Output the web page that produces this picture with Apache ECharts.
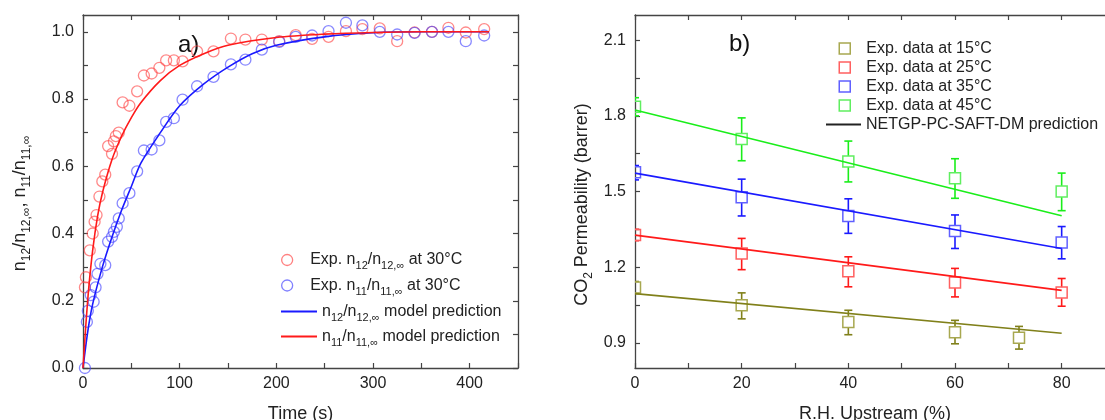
<!DOCTYPE html>
<html><head><meta charset="utf-8">
<script src="https://cdn.jsdelivr.net/npm/echarts@6/dist/echarts.min.js"></script>
<style>html,body{margin:0;padding:0;background:#fff}#c{width:1105px;height:420px}</style>
</head><body><div id="c"></div>
<script>
// ---------- Panel a) data ----------
const redExpTimes  = [2,3,7,10,12,14,17,20,23,26,30,32,34,37,41,48,56,63,71,79,86,94,103,118,135,153,168,185,203,220,237,254,272,289,307,325,343,361,378,396,415];
const redExpValues = [0.24,0.27,0.35,0.40,0.435,0.455,0.51,0.555,0.575,0.66,0.637,0.674,0.69,0.70,0.79,0.78,0.823,0.87,0.876,0.893,0.915,0.915,0.912,0.942,0.942,0.98,0.977,0.977,0.972,0.99,0.979,0.985,1.002,1.008,1.01,0.972,0.998,1.0,1.012,0.998,1.008];
const blueExpTimes  = [2,4,5,8,11,13,15,18,23,26,30,32,35,37,41,48,56,63,71,79,86,94,103,118,135,153,168,185,203,220,237,254,272,289,307,325,343,361,378,396,415];
const blueExpValues = [0.0,0.137,0.17,0.217,0.197,0.24,0.28,0.31,0.306,0.376,0.39,0.405,0.42,0.445,0.49,0.52,0.585,0.647,0.65,0.677,0.732,0.743,0.798,0.838,0.866,0.903,0.917,0.947,0.97,0.985,0.989,1.002,1.027,1.019,1.0,0.992,0.997,1.0,1.0,0.972,0.989];
const redModelTimes  = [0,3,6,10,15,20,30,40,50,60,80,100,125,150,200,250,300,350,420];
const redModelValues = [0,0.13,0.24,0.35,0.45,0.52,0.62,0.69,0.745,0.79,0.855,0.9,0.935,0.96,0.983,0.993,0.998,1.0,1.0];
const blueModelTimes  = [0,5,10,20,30,40,50,60,80,100,125,150,175,200,250,300,350,420];
const blueModelValues = [0,0.11,0.19,0.30,0.39,0.47,0.54,0.61,0.70,0.78,0.845,0.895,0.935,0.96,0.985,0.997,1.0,1.0];
const aXTicks = [0,50,100,150,200,250,300,350,400,450];
const aXLabels = [0,100,200,300,400];
const aYTicks = [0,0.1,0.2,0.3,0.4,0.5,0.6,0.7,0.8,0.9,1.0];
const aYLabels = [0,0.2,0.4,0.6,0.8,1.0];

// ---------- Panel b) data ----------
const rh15 = [0,20,40,60,72];
const perm15 = [1.119,1.049,0.982,0.942,0.92];
const lo15 = [1.095,0.995,0.932,0.896,0.875];
const hi15 = [1.143,1.098,1.029,0.989,0.965];
const rh = [0,20,40,60,80];
const perm25 = [1.327,1.254,1.184,1.139,1.099];
const lo25 = [1.305,1.19,1.122,1.082,1.045];
const hi25 = [1.35,1.314,1.241,1.195,1.155];
const perm35 = [1.576,1.477,1.403,1.343,1.298];
const lo35 = [1.546,1.403,1.334,1.274,1.233];
const hi35 = [1.603,1.549,1.471,1.407,1.361];
const perm45 = [1.836,1.708,1.619,1.553,1.50];
const lo45 = [1.80,1.622,1.538,1.473,1.424];
const hi45 = [1.872,1.792,1.70,1.63,1.573];
const predRH = [0,80];
const pred15 = [1.095,0.938];
const pred25 = [1.327,1.108];
const pred35 = [1.573,1.274];
const pred45 = [1.823,1.404];
const bXTicks = [0,10,20,30,40,50,60,70,80];
const bXLabels = [0,20,40,60,80];
const bYTicks = [0.9,1.05,1.2,1.35,1.5,1.65,1.8,1.95,2.1];
const bYLabels = [0.9,1.2,1.5,1.8,2.1];

const zip = (a,b) => a.map((v,i)=>[v,b[i]]);
const zip4 = (a,b,c,d) => a.map((v,i)=>[v,b[i],c[i],d[i]]);

const FONT = "'Liberation Sans', Arial, sans-serif";
const TXT = '#222';
const AXC = '#444';
const SUB = {fontSize: 11, fontFamily: FONT, color: TXT, padding: [12,0,0,0]};
const SUBT = {fontSize: 12, fontFamily: FONT, color: TXT, padding: [13,0,0,0]};

function axisBase(extra) {
  return Object.assign({
    type: 'value',
    axisLine: {show: true, onZero: false, lineStyle: {color: AXC, width: 1.3}},
    splitLine: {show: false},
    axisTick: {show: true, inside: true, length: 5, lineStyle: {color: AXC, width: 1.2}},
    axisLabel: {show: false}
  }, extra);
}
function ticks(vals) {
  return {show: true, inside: true, length: 5, customValues: vals, lineStyle: {color: AXC, width: 1.2}};
}
function labelCfg(vals, dec, margin) {
  return {show: true, customValues: vals, margin: margin, fontSize: 16, fontFamily: FONT, color: TXT,
          formatter: v => dec ? Number(v).toFixed(dec) : String(Math.round(v))};
}

function errRender(stroke, light) {
  return function (params, api) {
    const x = api.value(0), y = api.value(1), lo = api.value(2), hi = api.value(3);
    const p = api.coord([x, y]), pl = api.coord([x, lo]), ph = api.coord([x, hi]);
    const s = 5.5, cw = 4;
    const ls = {stroke: stroke, lineWidth: 1.6};
    return {type: 'group', children: [
      {type: 'line', shape: {x1: p[0], y1: ph[1], x2: p[0], y2: p[1] - s}, style: ls},
      {type: 'line', shape: {x1: p[0], y1: p[1] + s, x2: p[0], y2: pl[1]}, style: ls},
      {type: 'line', shape: {x1: p[0] - cw, y1: ph[1], x2: p[0] + cw, y2: ph[1]}, style: ls},
      {type: 'line', shape: {x1: p[0] - cw, y1: pl[1], x2: p[0] + cw, y2: pl[1]}, style: ls},
      {type: 'rect', shape: {x: p[0] - s, y: p[1] - s, width: 2 * s, height: 2 * s},
       style: {fill: 'rgba(0,0,0,0)', stroke: light, lineWidth: 1.5}}
    ]};
  };
}

const names = {
  e12: 'Exp. n12/n12,∞ at 30°C',
  e11: 'Exp. n11/n11,∞ at 30°C',
  m12: 'n12/n12,∞ model prediction',
  m11: 'n11/n11,∞ model prediction'
};
const richNames = {};
richNames[names.e12] = 'Exp. n{s|12}/n{s|12,∞} at 30°C';
richNames[names.e11] = 'Exp. n{s|11}/n{s|11,∞} at 30°C';
richNames[names.m12] = 'n{s|12}/n{s|12,∞} model prediction';
richNames[names.m11] = 'n{s|11}/n{s|11,∞} model prediction';

const C = {
  olive: '#80801a', oliveL: '#a8a850',
  red: '#ff1a1a', redL: '#ff6060',
  blue: '#1a1aff', blueL: '#6060ff',
  green: '#1aee1a', greenL: '#60ee60'
};

const leftLegendText = {fontSize: 16, color: TXT, fontFamily: FONT, rich: {s: SUB}};
const rightLegendText = {fontSize: 16, color: TXT, fontFamily: FONT, lineHeight: 19};

const option = {
  animation: false,
  backgroundColor: '#fff',
  textStyle: {fontFamily: FONT},
  grid: [
    {left: 83, top: 15, width: 435, height: 353, outerBoundsMode: 'none', containLabel: false},
    {left: 635, top: 15, width: 480, height: 353, outerBoundsMode: 'none', containLabel: false}
  ],
  xAxis: [
    axisBase({gridIndex: 0, min: 0, max: 450, position: 'bottom', axisTick: ticks(aXTicks),
      axisLabel: labelCfg(aXLabels, 0, 8),
      name: 'Time (s)', nameLocation: 'middle', nameGap: 37,
      nameTextStyle: {fontSize: 18, color: TXT, fontFamily: FONT}}),
    axisBase({gridIndex: 0, min: 0, max: 450, position: 'top', axisTick: ticks(aXTicks)}),
    axisBase({gridIndex: 1, min: 0, max: 90, position: 'bottom', axisTick: ticks(bXTicks),
      axisLabel: labelCfg(bXLabels, 0, 8),
      name: 'R.H. Upstream (%)', nameLocation: 'middle', nameGap: 37,
      nameTextStyle: {fontSize: 18, color: TXT, fontFamily: FONT}}),
    axisBase({gridIndex: 1, min: 0, max: 90, position: 'top', axisTick: ticks(bXTicks)})
  ],
  yAxis: [
    axisBase({gridIndex: 0, min: 0, max: 1.05, position: 'left', axisTick: ticks(aYTicks),
      axisLabel: labelCfg(aYLabels, 1, 9),
      name: 'n{s|12}/n{s|12,∞}, n{s|11}/n{s|11,∞}', nameLocation: 'middle', nameGap: 50,
      nameTextStyle: {fontSize: 18, color: TXT, fontFamily: FONT, padding: [0, 24, 0, 0], rich: {s: SUBT}}}),
    axisBase({gridIndex: 0, min: 0, max: 1.05, position: 'right', axisTick: ticks(aYTicks)}),
    axisBase({gridIndex: 1, min: 0.8, max: 2.2, position: 'left', axisTick: ticks(bYTicks),
      axisLabel: labelCfg(bYLabels, 1, 9),
      name: 'CO{s|2} Permeability (barrer)', nameLocation: 'middle', nameGap: 40,
      nameTextStyle: {fontSize: 18, color: TXT, fontFamily: FONT, padding: [0, 26, 0, 0], rich: {s: SUBT}}}),
    axisBase({gridIndex: 1, min: 0.8, max: 2.2, position: 'right', axisTick: ticks(bYTicks)})
  ],
  legend: [
    { // circles
      orient: 'vertical', left: 276, top: 247, itemWidth: 36, itemHeight: 11, itemGap: 6,
      data: [
        {name: names.e12, icon: 'circle', itemStyle: {color: 'rgba(0,0,0,0)', borderColor: C.redL, borderWidth: 1.3}},
        {name: names.e11, icon: 'circle', itemStyle: {color: 'rgba(0,0,0,0)', borderColor: C.blueL, borderWidth: 1.3}}
      ],
      formatter: n => richNames[n], textStyle: leftLegendText
    },
    { // model lines
      orient: 'vertical', left: 276, top: 298.5, itemWidth: 36, itemHeight: 2, itemGap: 5.5,
      data: [
        {name: names.m12, icon: 'rect', itemStyle: {color: C.blue, borderWidth: 0}},
        {name: names.m11, icon: 'rect', itemStyle: {color: C.red, borderWidth: 0}}
      ],
      formatter: n => richNames[n], textStyle: leftLegendText
    },
    { // squares
      orient: 'vertical', left: 833.5, top: 34, itemWidth: 11, itemHeight: 11, itemGap: 0,
      data: [
        {name: 'Exp. data at 15°C', icon: 'rect', itemStyle: {color: 'rgba(0,0,0,0)', borderColor: C.oliveL, borderWidth: 1.5}},
        {name: 'Exp. data at 25°C', icon: 'rect', itemStyle: {color: 'rgba(0,0,0,0)', borderColor: C.redL, borderWidth: 1.5}},
        {name: 'Exp. data at 35°C', icon: 'rect', itemStyle: {color: 'rgba(0,0,0,0)', borderColor: C.blueL, borderWidth: 1.5}},
        {name: 'Exp. data at 45°C', icon: 'rect', itemStyle: {color: 'rgba(0,0,0,0)', borderColor: C.greenL, borderWidth: 1.5}}
      ],
      textStyle: Object.assign({padding: [0, 0, 0, 11]}, rightLegendText)
    },
    { // prediction line
      orient: 'vertical', left: 821, top: 110, itemWidth: 35, itemHeight: 2, itemGap: 0,
      data: [{name: 'NETGP-PC-SAFT-DM prediction', icon: 'rect', itemStyle: {color: '#222', borderWidth: 0}}],
      textStyle: rightLegendText
    }
  ],
  graphic: [
    {type: 'text', x: 178, y: 45, style: {text: 'a)', font: '24px ' + FONT, fill: '#111', textVerticalAlign: 'middle'}},
    {type: 'text', x: 729, y: 44, style: {text: 'b)', font: '24px ' + FONT, fill: '#111', textVerticalAlign: 'middle'}}
  ],
  series: [
    {name: names.e12, type: 'scatter', xAxisIndex: 0, yAxisIndex: 0, data: zip(redExpTimes, redExpValues),
     symbol: 'circle', symbolSize: 11, itemStyle: {color: 'rgba(0,0,0,0)', borderColor: 'rgba(255,70,70,0.8)', borderWidth: 1.3}, z: 3},
    {name: names.e11, type: 'scatter', xAxisIndex: 0, yAxisIndex: 0, data: zip(blueExpTimes, blueExpValues),
     symbol: 'circle', symbolSize: 11, itemStyle: {color: 'rgba(0,0,0,0)', borderColor: 'rgba(70,70,255,0.8)', borderWidth: 1.3}, z: 3},
    {name: names.m12, type: 'line', xAxisIndex: 0, yAxisIndex: 0, data: zip(blueModelTimes, blueModelValues),
     smooth: 0.3, symbol: 'none', showSymbol: false, lineStyle: {color: C.blue, width: 1.6}, itemStyle: {color: C.blue}, z: 4},
    {name: names.m11, type: 'line', xAxisIndex: 0, yAxisIndex: 0, data: zip(redModelTimes, redModelValues),
     smooth: 0.3, symbol: 'none', showSymbol: false, lineStyle: {color: C.red, width: 1.6}, itemStyle: {color: C.red}, z: 4},

    {name: 'Exp. data at 15°C', type: 'custom', xAxisIndex: 2, yAxisIndex: 2, clip: true,
     data: zip4(rh15, perm15, lo15, hi15), renderItem: errRender(C.olive, C.oliveL), itemStyle: {color: C.oliveL}, encode: {x: 0, y: [1, 2, 3]}},
    {name: 'Exp. data at 25°C', type: 'custom', xAxisIndex: 2, yAxisIndex: 2, clip: true,
     data: zip4(rh, perm25, lo25, hi25), renderItem: errRender(C.red, C.redL), itemStyle: {color: C.redL}, encode: {x: 0, y: [1, 2, 3]}},
    {name: 'Exp. data at 35°C', type: 'custom', xAxisIndex: 2, yAxisIndex: 2, clip: true,
     data: zip4(rh, perm35, lo35, hi35), renderItem: errRender(C.blue, C.blueL), itemStyle: {color: C.blueL}, encode: {x: 0, y: [1, 2, 3]}},
    {name: 'Exp. data at 45°C', type: 'custom', xAxisIndex: 2, yAxisIndex: 2, clip: true,
     data: zip4(rh, perm45, lo45, hi45), renderItem: errRender(C.green, C.greenL), itemStyle: {color: C.greenL}, encode: {x: 0, y: [1, 2, 3]}},
    {name: 'pred15', type: 'line', xAxisIndex: 2, yAxisIndex: 2, data: zip(predRH, pred15), symbol: 'none', lineStyle: {color: C.olive, width: 1.6}},
    {name: 'pred25', type: 'line', xAxisIndex: 2, yAxisIndex: 2, data: zip(predRH, pred25), symbol: 'none', lineStyle: {color: C.red, width: 1.6}},
    {name: 'pred35', type: 'line', xAxisIndex: 2, yAxisIndex: 2, data: zip(predRH, pred35), symbol: 'none', lineStyle: {color: C.blue, width: 1.6}},
    {name: 'pred45', type: 'line', xAxisIndex: 2, yAxisIndex: 2, data: zip(predRH, pred45), symbol: 'none', lineStyle: {color: C.green, width: 1.6}},
    {name: 'NETGP-PC-SAFT-DM prediction', type: 'line', xAxisIndex: 2, yAxisIndex: 2, data: [], symbol: 'none',
     lineStyle: {color: '#222', width: 1.6}, itemStyle: {color: '#222'}}
  ]
};

const chart = echarts.init(document.getElementById('c'), null, {renderer: 'canvas'});
chart.setOption(option);
</script>
</body></html>
